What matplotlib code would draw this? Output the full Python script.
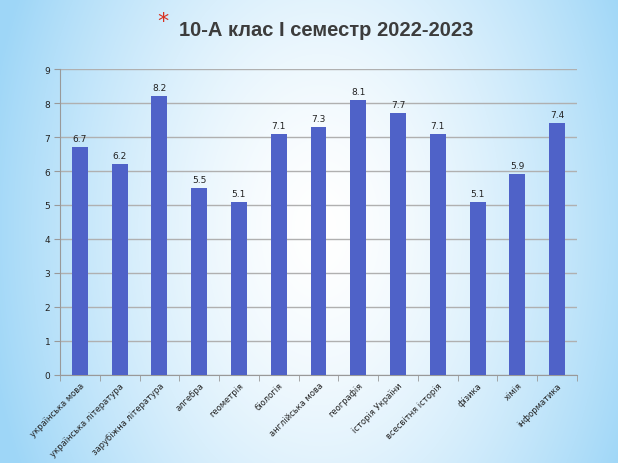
import numpy as np
import matplotlib
matplotlib.use("Agg")
import matplotlib.pyplot as plt

categories = ["українська мова", "українська література", "зарубіжна література",
              "алгебра", "геометрія", "біологія", "англійська мова", "географія",
              "історія України", "всесвітня історія", "фізика", "хімія", "інформатика"]
values = [6.7, 6.2, 8.2, 5.5, 5.1, 7.1, 7.3, 8.1, 7.7, 7.1, 5.1, 5.9, 7.4]
yticks = [0, 1, 2, 3, 4, 5, 6, 7, 8, 9]
title = "10-А клас І семестр 2022-2023"

plt.rcParams['font.family'] = ['DejaVu Sans']

fig = plt.figure(figsize=(6.18, 4.64), dpi=100)

# background gradient
bg = fig.add_axes([0, 0, 1, 1])
h, w = 464, 618
yy, xx = np.mgrid[0:h, 0:w]
cx, cy = 320, 230
d = np.sqrt(((xx - cx) / 340.0) ** 2 + ((yy - cy) / 520.0) ** 2)
t = np.clip(d, 0, 1) ** 1.5
edge = np.array([0.62, 0.84, 0.97])
white = np.array([1.0, 1.0, 1.0])
img = white[None, None, :] * (1 - t[..., None]) + edge[None, None, :] * t[..., None]
bg.imshow(img, aspect='auto', extent=[0, 1, 0, 1], origin='upper')
bg.set_axis_off()

ax = fig.add_axes([60 / 618, 1 - 376 / 464, (577 - 60) / 618, (376 - 70) / 464])
ax.patch.set_alpha(0)
x = np.arange(len(categories))
bars = ax.bar(x, values, width=0.4, color='#4f62c8', zorder=3)
for xi, v in zip(x, values):
    ax.text(xi, v + 0.12, f"{v}", ha='center', va='bottom', fontsize=6.5, color='#222222')

ax.set_xlim(-0.5, len(categories) - 0.5)
ax.set_ylim(0, 9)
ax.set_yticks(yticks)
ax.set_yticklabels([str(t) for t in yticks], fontsize=6.5, color='#222222')
ax.yaxis.grid(True, color='#b0b0b0', linewidth=1.0, zorder=0)
ax.set_xticks(x)
ax.set_xticklabels(categories, rotation=45, ha='right', rotation_mode='anchor',
                   fontsize=6, color='#222222')
ax.set_xticks(np.arange(-0.5, len(categories)), minor=True)
ax.tick_params(axis='x', which='major', length=0, pad=4)
ax.tick_params(axis='x', which='minor', length=4, color='#999999')
ax.tick_params(axis='y', length=4, color='#999999', pad=3)
for s in ['top', 'right']:
    ax.spines[s].set_visible(False)
for s in ['left', 'bottom']:
    ax.spines[s].set_color('#999999')

fig.text(163 / 618, 1 - 22 / 464, "*", fontsize=16, color='#d9301f',
         ha='center', va='center')
fig.text(326 / 618, 1 - 30 / 464, title, fontsize=14.5, fontweight='bold',
         family=['Liberation Sans', 'DejaVu Sans'], color='#3c3c3c',
         ha='center', va='center')

fig.savefig("out.png", dpi=100)
